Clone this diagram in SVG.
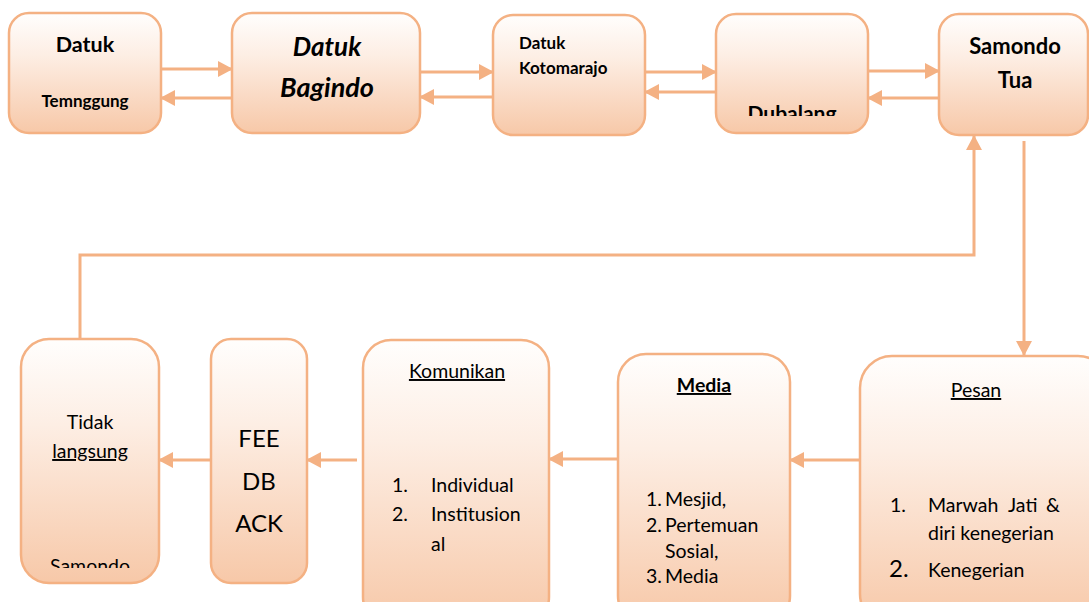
<svg xmlns="http://www.w3.org/2000/svg" width="1089" height="602" viewBox="0 0 1089 602">
  <defs>
    <linearGradient id="fillGrad" x1="0" y1="0" x2="0" y2="1">
      <stop offset="0" stop-color="#fffefd"/>
      <stop offset="0.35" stop-color="#fdeee4"/>
      <stop offset="1" stop-color="#f7c8a8"/>
    </linearGradient>
    <marker id="arrow" markerUnits="userSpaceOnUse" markerWidth="15" markerHeight="16" refX="14" refY="8" orient="auto">
      <path d="M0,0 L15,8 L0,16 z" fill="#f4b183"/>
    </marker>
    <clipPath id="clipDubalang"><rect x="700" y="90" width="180" height="26"/></clipPath>
    <clipPath id="clipSamondo"><rect x="20" y="540" width="140" height="28"/></clipPath>
  </defs>
  <style>
    .box { fill: url(#fillGrad); stroke: #f4b183; stroke-width: 2.5; }
    .conn { fill: none; stroke: #f4b183; stroke-width: 3; }
    .t { font-family: Lato, "Liberation Sans", sans-serif; fill: #000; font-size: 19.5px; }
    .b { font-weight: bold; }
    .i { font-style: italic; }
    .c { text-anchor: middle; }
  </style>

  <!-- connectors -->
  <g id="connectors">
    <line class="conn" x1="161" y1="69" x2="232" y2="69" marker-end="url(#arrow)"/>
    <line class="conn" x1="232" y1="98" x2="161" y2="98" marker-end="url(#arrow)"/>
    <line class="conn" x1="420" y1="72" x2="493" y2="72" marker-end="url(#arrow)"/>
    <line class="conn" x1="493" y1="97" x2="420" y2="97" marker-end="url(#arrow)"/>
    <line class="conn" x1="645" y1="72" x2="716" y2="72" marker-end="url(#arrow)"/>
    <line class="conn" x1="716" y1="92" x2="645" y2="92" marker-end="url(#arrow)"/>
    <line class="conn" x1="868" y1="71" x2="939" y2="71" marker-end="url(#arrow)"/>
    <line class="conn" x1="939" y1="98" x2="868" y2="98" marker-end="url(#arrow)"/>
    <line class="conn" x1="1024" y1="141" x2="1024" y2="355" marker-end="url(#arrow)"/>
    <polyline class="conn" points="80,339 80,255 974,255 974,136" marker-end="url(#arrow)"/>
    <line class="conn" x1="860" y1="460" x2="790" y2="460" marker-end="url(#arrow)"/>
    <line class="conn" x1="618" y1="459" x2="549" y2="459" marker-end="url(#arrow)"/>
    <line class="conn" x1="357" y1="460" x2="307" y2="460" marker-end="url(#arrow)"/>
    <line class="conn" x1="211" y1="460" x2="159" y2="460" marker-end="url(#arrow)"/>
  </g>

  <!-- top row -->
  <g id="datuk-temnggung">
    <rect class="box" x="9" y="13" width="152" height="120" rx="20"/>
    <text class="t b c" x="85" y="52" style="font-size:21.5px">Datuk</text>
    <text class="t b c" x="85" y="107" style="font-size:17px">Temnggung</text>
  </g>
  <g id="datuk-bagindo">
    <rect class="box" x="232" y="13" width="188" height="120" rx="20"/>
    <text class="t b i c" x="327" y="56" style="font-size:26px">Datuk</text>
    <text class="t b i c" x="327" y="97" style="font-size:27px">Bagindo</text>
  </g>
  <g id="datuk-kotomarajo">
    <rect class="box" x="493" y="15" width="152" height="120" rx="20"/>
    <text class="t b" x="519" y="49" style="font-size:17px">Datuk</text>
    <text class="t b" x="519" y="74" style="font-size:17px">Kotomarajo</text>
  </g>
  <g id="dubalang">
    <rect class="box" x="716" y="14" width="152" height="119" rx="20"/>
    <text class="t b c" x="792" y="121" style="font-size:21px" clip-path="url(#clipDubalang)">Dubalang</text>
  </g>
  <g id="samondo-tua">
    <rect class="box" x="939" y="14" width="149" height="121" rx="20"/>
    <text class="t b c" x="1015" y="54" style="font-size:22px">Samondo</text>
    <text class="t b c" x="1015" y="88" style="font-size:22px">Tua</text>
  </g>

  <!-- bottom row -->
  <g id="pesan">
    <rect class="box" x="860" y="356" width="250" height="270" rx="32"/>
    <text class="t c" x="976" y="397" text-decoration="underline">Pesan</text>
    <text class="t" x="890" y="512">1.</text>
    <text class="t" x="928" y="512">Marwah</text>
    <text class="t" x="1008" y="512">Jati</text>
    <text class="t" x="1060" y="512" text-anchor="end">&amp;</text>
    <text class="t" x="928" y="540">diri kenegerian</text>
    <text class="t" x="889" y="577" style="font-size:24px">2.</text>
    <text class="t" x="928" y="577">Kenegerian</text>
  </g>
  <g id="media">
    <rect class="box" x="618" y="354" width="172" height="270" rx="28"/>
    <text class="t b c" x="704" y="392" text-decoration="underline">Media</text>
    <text class="t" x="646" y="506">1.</text>
    <text class="t" x="665" y="506">Mesjid,</text>
    <text class="t" x="646" y="532">2.</text>
    <text class="t" x="665" y="532">Pertemuan</text>
    <text class="t" x="665" y="558">Sosial,</text>
    <text class="t" x="646" y="583">3.</text>
    <text class="t" x="665" y="583">Media</text>
  </g>
  <g id="komunikan">
    <rect class="box" x="363" y="340" width="186" height="285" rx="28"/>
    <text class="t c" x="457" y="378" text-decoration="underline">Komunikan</text>
    <text class="t" x="392" y="492">1.</text>
    <text class="t" x="431" y="492">Individual</text>
    <text class="t" x="392" y="521">2.</text>
    <text class="t" x="431" y="521">Institusion</text>
    <text class="t" x="431" y="551">al</text>
  </g>
  <g id="feedback">
    <rect class="box" x="211" y="339" width="96" height="244" rx="20"/>
    <text class="t c" x="259" y="447" style="font-size:24px">FEE</text>
    <text class="t c" x="259" y="490" style="font-size:24px">DB</text>
    <text class="t c" x="259" y="532" style="font-size:24px">ACK</text>
  </g>
  <g id="tidak-langsung">
    <rect class="box" x="21" y="339" width="138" height="244" rx="28"/>
    <text class="t c" x="90" y="429">Tidak</text>
    <text class="t c" x="90" y="458" text-decoration="underline">langsung</text>
    <text class="t c" x="90" y="573" clip-path="url(#clipSamondo)">Samondo</text>
  </g>
</svg>
